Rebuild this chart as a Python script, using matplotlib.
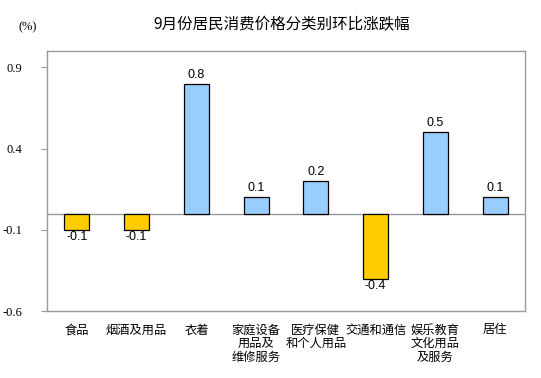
import numpy as np
import matplotlib
matplotlib.use('Agg')
import matplotlib.pyplot as plt

categories = ['食品', '烟酒及用品', '衣着', '家庭设备\n用品及\n维修服务',
              '医疗保健\n和个人用品', '交通和通信', '娱乐教育\n文化用品\n及服务', '居住']
values = [-0.1, -0.1, 0.8, 0.1, 0.2, -0.4, 0.5, 0.1]
yticks = [-0.6, -0.1, 0.4, 0.9]

cjk = ['Noto Sans CJK SC', 'DejaVu Sans']

fig = plt.figure(figsize=(5.41, 3.78), dpi=100)
ax = fig.add_axes([47 / 541, 1 - 311 / 378, 478 / 541, 260 / 378])

x = np.arange(len(values))
colors = ['#99CCFF' if v >= 0 else '#FFCC00' for v in values]
ax.bar(x, values, width=0.42, color=colors, edgecolor='black', linewidth=0.9, zorder=3)
ax.axhline(0, color='#999999', linewidth=1, zorder=2)

for xi, v in zip(x, values):
    if v >= 0:
        ax.annotate('%.1f' % v, (xi, v), xytext=(0, 2), textcoords='offset points',
                    ha='center', va='bottom', fontsize=9, family='Liberation Sans')
    else:
        ax.annotate('%.1f' % v, (xi, v), xytext=(0, -1), textcoords='offset points',
                    ha='center', va='top', fontsize=9, family='Liberation Sans')

ax.set_xlim(-0.5, len(values) - 0.5)
ax.set_ylim(-0.6, 1.0)
ax.set_yticks(yticks)
ax.set_yticklabels(['%.1f' % t for t in yticks], family='Liberation Serif', fontsize=9)
ax.set_xticks(x)
ax.set_xticklabels(categories, family=cjk, fontsize=8.8, linespacing=1.05, va='top')
ax.tick_params(axis='x', length=0, pad=9)
ax.tick_params(axis='y', length=4, color='#999999', direction='out', pad=14)
for s in ax.spines.values():
    s.set_color('#999999')
    s.set_linewidth(1)

fig.text(282 / 541, 1 - 25 / 378, '9月份居民消费价格分类别环比涨跌幅', ha='center', va='center',
         family=cjk, fontsize=11.2)
fig.text(28 / 541, 1 - 27 / 378, '(%)', ha='center', va='center',
         family='Liberation Serif', fontsize=9)

fig.savefig('out.png', dpi=100)
